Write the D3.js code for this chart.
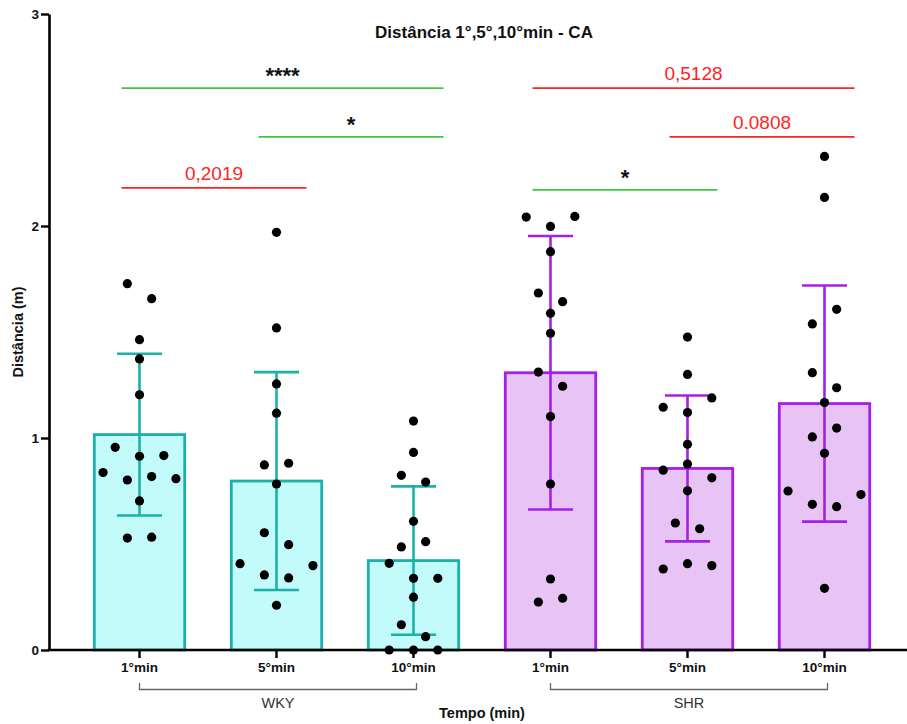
<!DOCTYPE html>
<html>
<head>
<meta charset="utf-8">
<script src="https://cdn.jsdelivr.net/npm/d3@7"></script>
<style>
  html, body { margin: 0; padding: 0; background: #fff; }
  svg { display: block; font-family: Arial, "Liberation Sans", Helvetica, sans-serif; }
</style>
</head>
<body>
<svg id="chart" width="907" height="724"></svg>
<script>
// Groups and time points
const groups = ["WKY", "SHR"];
const times = ["1°min", "5°min", "10°min"];

// Individual distances (m) per animal
const wky1  = [1.728, 1.657, 1.464, 1.373, 1.204, 0.956, 0.914, 0.917, 0.837, 0.802, 0.818, 0.808, 0.703, 0.528, 0.532];
const wky5  = [1.97, 1.519, 1.255, 1.117, 0.873, 0.881, 0.783, 0.553, 0.497, 0.407, 0.354, 0.340, 0.398, 0.211];
const wky10 = [1.08, 0.932, 0.824, 0.792, 0.607, 0.486, 0.511, 0.409, 0.338, 0.338, 0.249, 0.119, 0.063, 0, 0, 0];
const shr1  = [2.042, 1.998, 2.045, 1.879, 1.684, 1.643, 1.588, 1.494, 1.311, 1.244, 1.101, 0.783, 0.335, 0.226, 0.244];
const shr5  = [1.476, 1.30, 1.145, 1.12, 1.189, 0.970, 0.848, 0.877, 0.812, 0.751, 0.599, 0.572, 0.382, 0.407, 0.398];
const shr10 = [2.328, 2.135, 1.538, 1.607, 1.308, 1.237, 1.167, 1.005, 1.047, 0.928, 0.75, 0.687, 0.676, 0.733, 0.291];
const pointSets = [wky1, wky5, wky10, shr1, shr5, shr10];

// Y ticks
const yTicks = [0, 1, 2, 3];

// Pairwise comparisons
const compGroup = ["WKY", "WKY", "WKY", "SHR", "SHR", "SHR"];
const compFrom  = ["1°min", "5°min", "1°min", "1°min", "5°min", "1°min"];
const compTo    = ["10°min", "10°min", "5°min", "10°min", "10°min", "5°min"];
const compLabel = ["****", "*", "0,2019", "0,5128", "0.0808", "*"];
const compLevel = [2.65, 2.42, 2.18, 2.65, 2.42, 2.17];

// ---- styling ----
const groupStroke = { WKY: "#1BB0A9", SHR: "#A61FE6" };
const groupFill   = { WKY: "#C3FBFB", SHR: "#E8C3F5" };
const sigColor = "#3CC83C";
const nsColor = "#FF2424";

const svg = d3.select("#chart");
const yAxisX = 49;

const y = d3.scaleLinear().domain([0, 3]).range([650, 14]);
const keys = groups.flatMap(g => times.map(t => g + "|" + t));
const x = d3.scaleBand().domain(keys).range([71, 893]).paddingInner(0.34).paddingOuter(0.17);
const cx = k => x(k) + x.bandwidth() / 2;

const rows = keys.map((k, i) => {
  const vals = pointSets[i];
  return {
    key: k,
    group: k.split("|")[0],
    values: vals,
    mean: d3.mean(vals),
    sd: d3.deviation(vals)
  };
});

// Spread points that share a height band horizontally (scatter dot plot)
function swarm(values, binH, step) {
  const order = values.map((v, i) => i).sort((a, b) => values[b] - values[a] || a - b);
  const out = new Array(values.length);
  let i = 0;
  while (i < order.length) {
    const start = values[order[i]];
    let j = i;
    while (j < order.length && start - values[order[j]] < binH) j++;
    const bin = order.slice(i, j).sort((a, b) => a - b);
    bin.forEach((p, k) => { out[p] = (k - (bin.length - 1) / 2) * step; });
    i = j;
  }
  return out;
}

// Bars
svg.append("g").selectAll("rect").data(rows).join("rect")
  .attr("x", d => x(d.key))
  .attr("y", d => y(d.mean))
  .attr("width", x.bandwidth())
  .attr("height", d => y(0) - y(d.mean))
  .attr("fill", d => groupFill[d.group])
  .attr("stroke", d => groupStroke[d.group])
  .attr("stroke-width", 2.8);

// Error bars (mean ± SD)
const eb = svg.append("g").selectAll("g").data(rows).join("g")
  .attr("stroke", d => groupStroke[d.group])
  .attr("stroke-width", 2.6)
  .attr("fill", "none");
eb.append("line")
  .attr("x1", d => cx(d.key)).attr("x2", d => cx(d.key))
  .attr("y1", d => y(Math.max(0, d.mean - d.sd))).attr("y2", d => y(d.mean + d.sd));
eb.append("line")
  .attr("x1", d => cx(d.key) - 22.5).attr("x2", d => cx(d.key) + 22.5)
  .attr("y1", d => y(d.mean + d.sd)).attr("y2", d => y(d.mean + d.sd));
eb.append("line")
  .attr("x1", d => cx(d.key) - 22.5).attr("x2", d => cx(d.key) + 22.5)
  .attr("y1", d => y(d.mean - d.sd)).attr("y2", d => y(d.mean - d.sd));

// Individual points
const dots = svg.append("g");
rows.forEach(r => {
  const off = swarm(r.values, 0.085, 24.3);
  dots.selectAll(null).data(r.values).join("circle")
    .attr("cx", (v, i) => cx(r.key) + off[i])
    .attr("cy", v => y(v))
    .attr("r", 4.6)
    .attr("fill", "#000");
});

// Y axis
const gy = svg.append("g").attr("transform", `translate(${yAxisX},0)`)
  .call(d3.axisLeft(y).tickValues(yTicks).tickFormat(d3.format("d")).tickSize(8).tickSizeOuter(0).tickPadding(2));
gy.select(".domain").attr("stroke", "#000").attr("stroke-width", 2.6);
gy.selectAll(".tick line").attr("stroke", "#000").attr("stroke-width", 2.4);
gy.selectAll(".tick text").attr("font-size", 13.5).attr("font-weight", "bold").attr("fill", "#111")
  .attr("font-family", "Arial, 'Liberation Sans', sans-serif");

// X axis
const gx = svg.append("g").attr("transform", `translate(0,${y(0)})`)
  .call(d3.axisBottom(x).tickSize(8).tickSizeOuter(0).tickPadding(4).tickFormat(k => k.split("|")[1]));
gx.select(".domain").remove();
gx.selectAll(".tick line").attr("stroke", "#000").attr("stroke-width", 2.4);
gx.selectAll(".tick text").attr("font-size", 13.5).attr("font-weight", "bold").attr("fill", "#111")
  .attr("font-family", "Arial, 'Liberation Sans', sans-serif");
svg.append("line")
  .attr("x1", yAxisX - 1.3).attr("x2", 907)
  .attr("y1", y(0)).attr("y2", y(0))
  .attr("stroke", "#000").attr("stroke-width", 2.6);

// Group brackets under the time labels
groups.forEach(g => {
  const x1 = cx(g + "|" + times[0]);
  const x2 = cx(g + "|" + times[times.length - 1]) + 3;
  svg.append("path")
    .attr("d", `M${x1},683V689.5H${x2}V683`)
    .attr("fill", "none").attr("stroke", "#666").attr("stroke-width", 1.3);
  svg.append("text")
    .attr("x", (x1 + x2) / 2).attr("y", 707.5)
    .attr("text-anchor", "middle").attr("font-size", 14.5).attr("fill", "#333")
    .text(g);
});

// Comparison lines and labels
compLabel.forEach((lab, i) => {
  const sig = lab.startsWith("*");
  const xa = cx(compGroup[i] + "|" + compFrom[i]) - 18;
  const xb = cx(compGroup[i] + "|" + compTo[i]) + 30;
  const yy = y(compLevel[i]);
  svg.append("line")
    .attr("x1", xa).attr("x2", xb).attr("y1", yy).attr("y2", yy)
    .attr("stroke", sig ? sigColor : nsColor).attr("stroke-width", 1.8);
  svg.append("text")
    .attr("x", (xa + xb) / 2)
    .attr("y", yy - (sig ? 5 : 8))
    .attr("text-anchor", "middle")
    .attr("font-size", sig ? 22 : 19)
    .attr("font-weight", sig ? "bold" : "normal")
    .attr("fill", sig ? "#111" : nsColor)
    .text(lab);
});

// Titles
svg.append("text")
  .attr("x", 484).attr("y", 38)
  .attr("text-anchor", "middle").attr("font-size", 17).attr("font-weight", "bold").attr("fill", "#111")
  .text("Distância 1°,5°,10°min - CA");
svg.append("text")
  .attr("x", 482).attr("y", 718)
  .attr("text-anchor", "middle").attr("font-size", 14.5).attr("font-weight", "bold").attr("fill", "#111")
  .text("Tempo (min)");
svg.append("text")
  .attr("transform", `translate(23,${y(1.5)}) rotate(-90)`)
  .attr("text-anchor", "middle").attr("font-size", 14.5).attr("font-weight", "bold").attr("fill", "#111")
  .text("Distância (m)");
</script>
</body>
</html>
